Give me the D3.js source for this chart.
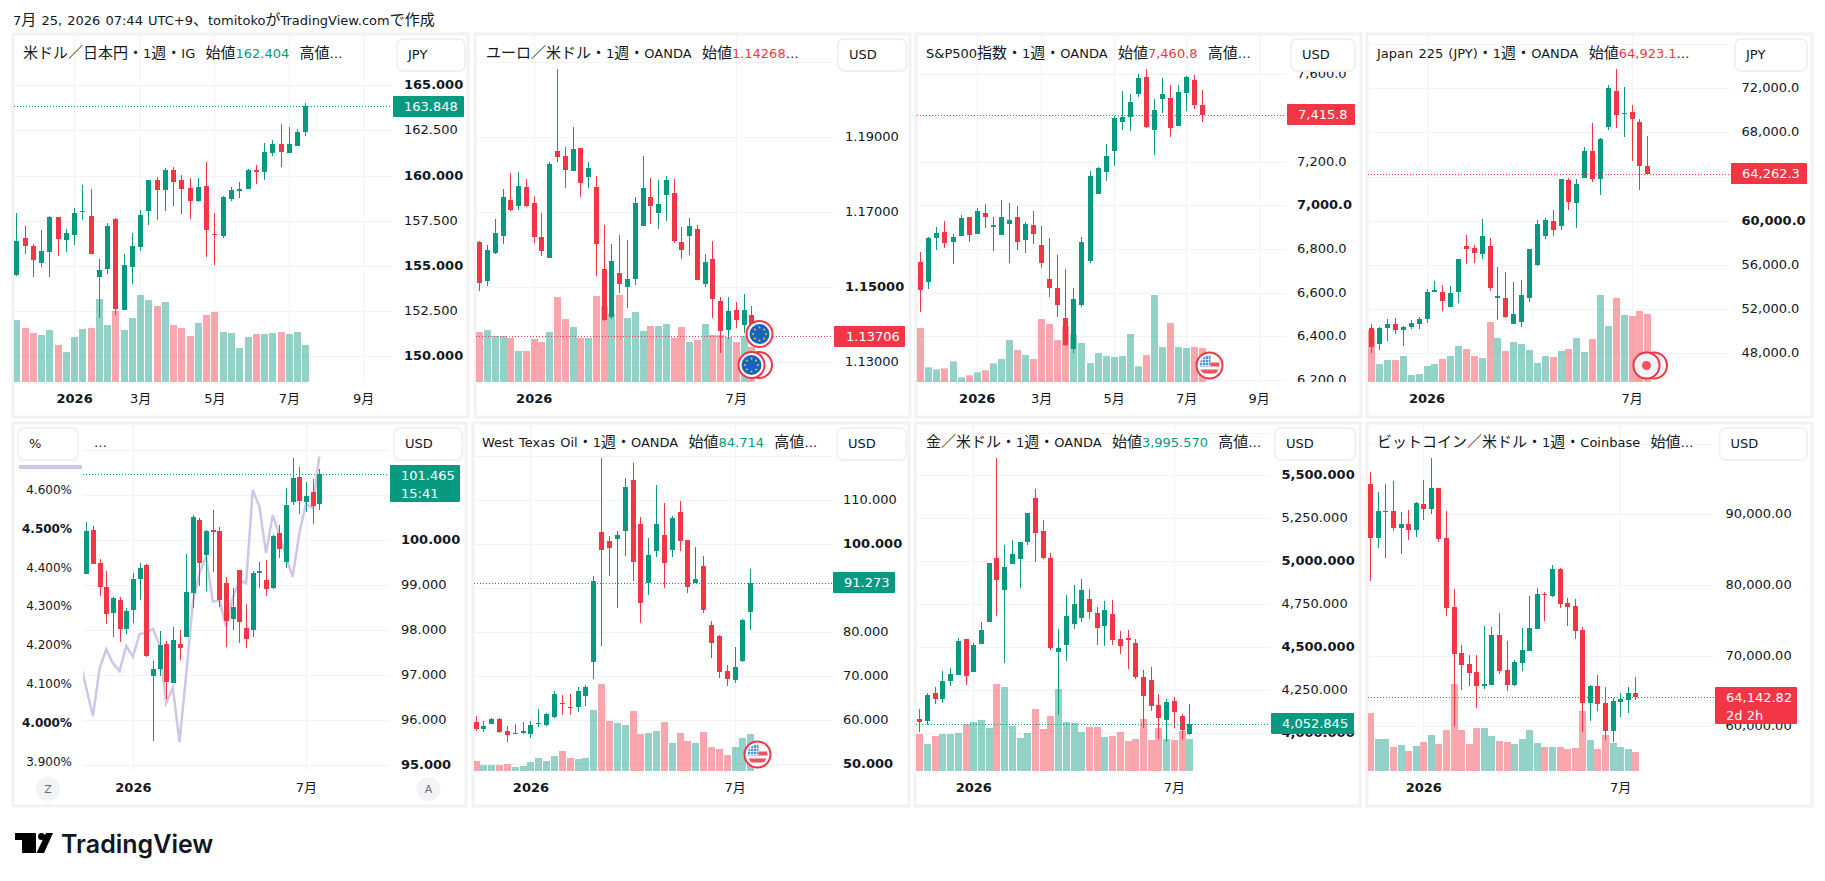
<!DOCTYPE html>
<html>
<head>
<meta charset="utf-8">
<script src="https://cdn.jsdelivr.net/npm/d3@7"></script>
<style>
  body { margin: 0; background: #fff; }
  text { font-family: "DejaVu Sans", "Noto Sans CJK JP", sans-serif; font-size: 13px; fill: #131722; white-space: pre; }
  .domain { display: none; }
</style>
</head>
<body>
<svg id="chart"></svg>
<script>
// weekly candles, first one is the week of 17 Nov 2025: [open, high, low, close]
let usdjpyOhlc = [
[154.50,157.93,154.45,156.38],[156.55,157.21,155.66,156.11],[156.11,156.22,154.39,155.33],[155.17,156.99,154.94,155.83],
[155.77,157.77,154.39,157.71],[157.71,157.71,155.55,156.49],[156.44,157.05,155.77,156.83],[156.72,158.21,156.16,157.93],
[157.99,159.48,157.55,158.04],[157.77,159.26,155.66,155.66],[154.39,155.39,152.12,154.78],[154.83,157.38,154.56,157.21],
[157.60,157.66,152.29,152.62],[152.56,155.66,152.56,155.06],[154.94,156.83,154.00,156.11],[156.05,158.10,155.83,157.82],
[158.04,159.76,157.27,159.76],[159.76,159.93,157.55,159.21],[159.21,160.42,158.04,160.31],[160.31,160.48,158.32,159.65],
[159.76,160.04,157.88,159.26],[159.32,159.87,157.60,158.60],[158.60,159.87,158.54,159.37],[159.43,160.76,155.50,156.99],
[156.77,157.93,155.06,156.72],[156.66,158.87,156.55,158.82],[158.71,159.37,158.60,159.21],[159.15,159.65,158.76,159.26],
[159.26,160.37,159.26,160.31],[160.31,160.59,159.54,160.20],[160.20,161.81,159.76,161.31],[161.25,161.97,161.09,161.75],
[161.75,162.86,160.48,161.31],[161.25,162.69,161.25,161.75],[161.64,162.58,161.64,162.42],[162.404,164.02,162.20,163.848]]
let usdjpyVolume = [186,162,147,141,156,111,90,135,159,162,249,171,213,156,192,261,246,228,240,171,162,138,177,201,210,150,147,102,135,144,144,147,150,144,150,111]
let usdjpyGrid = [165,162.5,160,157.5,155,152.5,150]
let usdjpyBold = [165,160,155,150]

let eurusdOhlc = [
[1.16209,1.16236,1.14902,1.15116],[1.15169,1.16129,1.15036,1.15996],[1.15916,1.16822,1.15889,1.16449],[1.16369,1.17622,1.16156,1.17409],
[1.17329,1.18049,1.17036,1.17062],[1.17169,1.18076,1.17062,1.17702],[1.17676,1.17889,1.17142,1.17169],[1.17249,1.17436,1.16182,1.16342],
[1.16342,1.16982,1.15836,1.15969],[1.15782,1.18342,1.15782,1.18289],[1.18636,1.20822,1.18342,1.18476],[1.18502,1.18742,1.17649,1.18129],
[1.18102,1.19276,1.18102,1.18689],[1.18716,1.18716,1.17409,1.17782],[1.17942,1.18342,1.17649,1.18182],[1.17676,1.17969,1.15302,1.16156],
[1.15489,1.16662,1.14102,1.14129],[1.14209,1.16156,1.14156,1.15702],[1.15382,1.16396,1.14849,1.15089],[1.15009,1.16262,1.14449,1.15222],
[1.15222,1.17409,1.15062,1.17249],[1.16636,1.18502,1.16636,1.17649],[1.17409,1.17916,1.16689,1.17169],[1.16982,1.17862,1.16556,1.17222],
[1.17462,1.17969,1.16769,1.17862],[1.17516,1.17889,1.16182,1.16236],[1.16209,1.16609,1.15756,1.15996],[1.16369,1.16849,1.15862,1.16636],
[1.16556,1.16662,1.15196,1.15196],[1.15089,1.15889,1.15009,1.15676],[1.15756,1.16236,1.14182,1.14689],[1.14636,1.14742,1.13249,1.13836],
[1.13862,1.14742,1.13622,1.14369],[1.14396,1.14609,1.13916,1.14129],[1.13996,1.14822,1.13782,1.14396],[1.14268,1.14502,1.13462,1.13706]]
let eurusdVolume = [150,156,138,138,132,93,93,129,120,150,255,189,165,132,132,258,226,206,261,192,210,153,168,168,174,132,165,120,126,174,141,141,135,120,138,105]
let eurusdGrid = [1.21,1.19,1.17,1.15,1.13]
let eurusdTicks = [1.19,1.17,1.15,1.13]
let eurusdBold = [1.15]

let spxOhlc = [
[6740.5,6786.3,6511.5,6612.2],[6648.9,6855.0,6616.8,6850.4],[6850.4,6900.8,6795.4,6873.3],[6877.9,6928.2,6804.6,6827.5],
[6832.1,6868.7,6731.3,6855.0],[6859.5,6955.7,6859.5,6942.0],[6946.6,6946.6,6832.1,6864.1],[6868.7,6987.8,6868.7,6974.0],
[6964.9,7006.1,6896.2,6946.6],[6900.8,6946.6,6790.8,6909.9],[6864.1,7024.4,6864.1,6946.6],[6914.5,7010.7,6735.9,6932.8],
[6946.6,6996.9,6795.4,6832.1],[6841.2,6923.7,6781.7,6914.5],[6909.9,6974.0,6822.9,6868.7],[6818.3,6905.3,6713.0,6735.9],
[6662.6,6850.4,6580.2,6621.4],[6621.4,6772.5,6488.6,6543.5],[6484.0,6708.4,6355.7,6360.3],[6342.0,6621.4,6323.7,6571.0],
[6543.5,6855.0,6534.4,6832.1],[6745.0,7157.2,6735.9,7134.3],[7051.9,7175.6,7051.9,7171.0],[7152.7,7280.9,7111.4,7226.0],
[7248.9,7409.2,7180.2,7400.0],[7381.7,7523.7,7345.0,7404.6],[7404.6,7509.9,7340.5,7473.3],[7509.9,7601.5,7496.2,7583.2],
[7587.8,7624.4,7354.2,7358.8],[7345.0,7487.0,7230.5,7436.6],[7487.0,7583.2,7422.9,7509.9],[7491.6,7551.1,7313.0,7354.2],
[7363.4,7551.1,7363.4,7519.1],[7514.5,7592.4,7432.1,7587.8],[7574.0,7597.0,7441.2,7459.5],[7460.8,7528.2,7381.7,7415.8]]
let spxVolume = [162,44,38,41,62,14,20,29,35,56,69,126,96,81,69,189,174,126,168,144,117,57,87,78,75,78,144,47,81,261,105,177,105,102,105,102]
let spxGrid = [7600,7400,7200,7000,6800,6600,6400,6200]
let spxTicks = [7600,7200,7000,6800,6600,6400,6200]
let spxBold = [7000]

let jp225Ohlc = [
[50249,50611,47984,48528],[48800,50339,48256,50249],[50249,51064,49071,50611],[50611,51154,49705,50067],
[50067,50430,48618,50339],[50339,50973,50158,50702],[50611,51245,50158,51064],[51064,53781,50702,53509],
[53509,54505,53509,53690],[53509,54143,51788,52694],[52151,54053,52151,53419],[53509,56498,52513,56498],
[57675,58672,56045,57404],[57494,57766,56136,57041],[56951,60121,56498,58581],[57675,58400,53600,53871],
[52966,55773,50973,53147],[52966,55321,51154,51245],[50611,54415,50611,51517],[50792,54596,50339,53237],
[52966,57404,52603,57404],[55955,60030,55864,59668],[58581,60211,58309,60030],[59940,60936,58581,59124],
[59487,63744,59124,63744],[63653,63834,60936,61660],[61570,63744,59306,63291],[63834,66642,63834,66280],
[66280,68815,63472,63744],[63744,67457,62294,67366],[68453,72257,68181,71985],[71714,73706,68363,69540],
[69631,72076,67548,69721],[69812,70446,65374,69178],[68906,69178,62747,64921],[64923.1,67638,64196,64262.3]]
let jp225Volume = [156,54,66,66,78,21,24,48,54,69,78,108,99,78,72,180,132,93,120,114,96,57,78,75,93,99,132,90,129,261,168,252,201,198,213,204]
let jp225Grid = [76000,72000,68000,64000,60000,56000,52000,48000]
let jp225Ticks = [72000,68000,60000,56000,52000,48000]
let jp225Bold = [60000]

let dxyOhlc = [
[99.25,100.41,99.25,100.21],[100.23,100.32,99.47,99.47],[99.50,99.59,98.76,98.96],[98.96,99.32,98.14,98.36],
[98.39,98.74,97.85,98.72],[98.67,98.74,97.74,98.03],[98.03,98.50,97.92,98.43],[98.45,99.27,98.16,99.14],
[99.14,99.50,98.67,99.39],[99.45,99.47,97.41,97.43],[96.99,97.32,95.53,97.14],[97.14,97.99,96.99,97.67],
[97.70,97.76,96.47,96.85],[96.83,98.07,96.83,97.79],[97.70,98.01,97.34,97.61],[97.85,99.70,97.85,98.85],
[98.83,100.56,98.50,100.52],[100.45,100.50,98.99,99.50],[99.67,100.23,98.87,100.21],[100.23,100.67,99.30,100.19],
[100.21,100.30,98.52,98.67],[99.05,99.19,97.63,98.21],[98.25,98.94,98.01,98.52],[99.34,99.34,97.72,98.19],
[98.05,98.59,97.61,97.81],[98.01,99.32,97.85,99.27],[99.27,99.52,98.94,99.32],[99.12,99.56,98.76,98.92],
[98.94,100.12,98.92,100.10],[100.16,100.34,99.61,99.81],[99.52,101.16,99.39,100.79],[100.85,101.83,100.79,101.39],
[101.41,101.63,100.59,100.87],[100.85,101.30,100.63,100.99],[101.07,101.36,100.36,100.76],[100.81,101.59,100.67,101.465]]
let dxyGrid = [102,101,100,99,98,97,96,95]
let dxyTicks = [100,99,98,97,96,95]
let dxyBold = [100,95]
// US yield overlay, left scale in percent. Starts one week before the first candle
let yieldValues = [4.162,4.089,4.017,4.140,4.189,4.153,4.133,4.198,4.170,4.229,4.231,4.242,4.200,4.051,4.090,3.950,4.123,4.308,4.385,4.428,4.312,4.316,4.247,4.321,4.368,4.359,4.600,4.557,4.437,4.535,4.484,4.428,4.376,4.488,4.565,4.553,4.686]
let yieldTicks = [4.6,4.5,4.4,4.3,4.2,4.1,4.0,3.9]
let yieldBold = [4.5,4.0]

let wtiOhlc = [
[59.62,60.98,57.65,58.03],[58.03,59.85,57.42,58.71],[59.17,60.53,59.17,60.30],[60.30,60.53,57.12,57.35],
[57.58,58.71,55.08,56.67],[56.89,59.17,56.89,57.12],[57.12,59.62,56.89,57.58],[56.89,59.85,55.98,58.94],
[59.17,62.58,58.48,59.39],[58.94,61.67,58.71,61.44],[60.76,66.67,60.53,65.98],[63.94,65.76,61.21,63.71],
[63.03,65.98,61.21,62.80],[63.03,67.50,61.89,66.67],[65.53,68.03,63.26,67.58],[73.26,92.80,69.39,91.67],
[102.80,119.62,76.89,98.71],[100.76,101.89,92.80,99.17],[101.21,103.03,85.53,102.12],[103.03,115.08,97.35,113.03],
[114.62,118.48,91.67,95.98],[104.62,106.21,82.12,86.67],[91.21,101.44,88.48,97.58],[98.48,113.48,97.12,104.62],
[102.12,109.39,90.08,95.76],[98.71,106.44,97.12,105.98],[107.35,109.85,98.48,100.76],[100.98,100.98,88.94,90.30],
[91.21,99.39,91.21,92.12],[95.08,97.35,84.39,85.08],[81.67,82.58,74.17,77.58],[79.17,79.39,69.62,70.98],
[71.21,72.58,67.80,69.39],[69.17,76.67,68.48,72.12],[73.48,83.03,73.26,82.80],[84.714,94.39,80.53,91.273]]
let wtiVolume = [30,18,18,18,21,12,15,27,39,30,45,60,39,36,39,183,261,150,144,138,180,111,114,120,147,84,114,90,84,117,72,66,48,72,99,111]
let wtiGrid = [120,110,100,90,80,70,60,50]
let wtiTicks = [110,100,80,70,60,50]
let wtiBold = [100,50]

let goldOhlc = [
[4081.2,4139.5,4005.4,4063.7],[4069.5,4232.7,4046.2,4221.0],[4232.7,4267.7,4168.6,4197.8],[4197.8,4360.9,4174.4,4302.6],
[4302.6,4378.4,4273.5,4343.4],[4337.6,4553.2,4337.6,4535.7],[4547.4,4547.4,4279.3,4331.8],[4355.1,4524.1,4355.1,4512.4],
[4518.3,4646.5,4518.3,4599.8],[4646.5,4990.3,4646.5,4990.3],[5019.4,5602.2,4681.4,4891.2],[4832.9,5095.2,4407.5,4967.0],
[4984.5,5124.3,4984.5,5042.7],[5013.6,5112.7,4844.6,5112.7],[5112.7,5281.7,5095.2,5281.7],[5369.1,5421.5,4996.1,5165.1],
[5176.8,5240.9,5013.6,5019.4],[5019.4,5048.6,4483.3,4495.0],[4471.6,4605.7,4104.5,4495.0],[4512.4,4803.8,4419.2,4681.4],
[4634.8,4862.1,4605.7,4751.4],[4669.8,4897.0,4646.5,4832.9],[4780.5,4838.8,4663.9,4704.7],[4698.9,4733.9,4512.4,4611.5],
[4623.2,4768.8,4506.6,4716.4],[4693.1,4774.7,4512.4,4541.6],[4547.4,4594.0,4460.0,4506.6],[4553.2,4599.8,4372.6,4541.6],
[4524.1,4547.4,4314.3,4325.9],[4325.9,4366.7,4028.8,4215.2],[4308.5,4384.2,4127.8,4156.9],[4162.8,4226.9,3964.6,4087.0],
[4075.4,4197.8,3947.1,4180.3],[4186.1,4209.4,4028.8,4122.0],[4098.7,4110.3,3964.6,4017.1],[3995.57,4168.6,3987.9,4052.845]]
let goldVolume = [111,81,105,111,111,114,141,147,153,129,261,252,135,99,114,186,126,165,246,147,144,117,132,132,102,105,117,90,96,156,93,129,96,93,120,96]
let goldGrid = [5750,5500,5250,5000,4750,4500,4250,4000]
let goldTicks = [5500,5250,5000,4750,4500,4250,4000]
let goldBold = [5500,5000,4500,4000]

let btcOhlc = [
[94245,95944,80519,86604],[86604,93113,85189,90425],[90283,94245,83774,90425],[90425,94670,87594,88019],
[88019,90283,84340,88585],[88585,90566,86321,87736],[87736,91698,86745,91557],[91415,94811,89151,90708],
[90708,97925,90000,93679],[93679,93679,86038,86462],[86604,90425,75566,76698],[76840,79387,60000,70189],
[70330,71462,65094,68632],[68774,70047,65660,67500],[67642,70047,62547,65660],[65660,74151,65236,65943],
[65802,74009,65802,72877],[72877,75991,67358,67783],[67925,72028,64953,65802],[65802,69340,65660,69057],
[68915,73868,67783,70755],[70613,78396,70613,73868],[73726,79528,73726,78679],[78679,78962,74858,78538],
[78396,82783,78255,82217],[82217,82358,76698,77264],[77406,78113,74151,76840],[76981,77972,72311,73443],
[73585,74009,59151,63255],[63255,65802,60708,65660],[65660,67217,62123,63113],[63255,65519,58019,59292],
[59292,63962,57736,63538],[63396,64670,61274,63821],[63679,65519,61840,64670],[64670,66934,63679,64142.82]]
let btcVolume = [174,96,96,72,78,60,75,87,108,81,123,261,123,81,129,129,105,90,87,81,96,123,84,72,72,72,66,69,180,93,66,108,84,72,66,57]
let btcGrid = [100000,90000,80000,70000,60000]
let btcTicks = [90000,80000,70000,60000]
let btcBold = []

let fullWeeks = [7,15,24,33,42]
let fullWeekLabels = ['2026','3月','5月','7月','9月']
let shortWeeks = [7,33]
let shortWeekLabels = ['2026','7月']

let green = '#089981'
let red = '#f23645'
let gridColor = '#f2f3f5'
let borderColor = '#f1f2f4'

let svg = d3.select('#chart').attr('width', 1825).attr('height', 881)
let defs = svg.append('defs')
let clipCount = 0

let addClip = (x, y, w, h) => {
    clipCount++
    let id = 'clip' + clipCount
    defs.append('clipPath').attr('id', id).append('rect')
        .attr('x', x).attr('y', y).attr('width', w).attr('height', h)
    return 'url(#' + id + ')'
}

let volumeScale = (bottom) => d3.scaleLinear().domain([0, 300]).range([bottom, bottom - 100])

// the japanese runs come out wider than the latin ones in the reference
let addRichText = (t, str, color) => {
    str.split(/([\u3000-\u30ff\u4e00-\u9fff\uff00-\uffef]+)/).forEach(part => {
        if (part === '') return
        let s = t.append('tspan').text(part)
        if (/[\u3000-\u30ff\u4e00-\u9fff\uff00-\uffef]/.test(part)) {
            s.style('font-size', '15px').style('font-family', '"Noto Sans CJK JP"')
        }
        if (color) s.style('fill', color)
    })
}

let drawButton = (p) => {
    svg.append('rect')
        .attr('x', p.btn[0]).attr('y', p.top + 4)
        .attr('width', p.btn[1] - p.btn[0]).attr('height', 32)
        .attr('rx', 6).attr('fill', '#fff').attr('stroke', '#f0f1f3').attr('stroke-width', 2)
    svg.append('text').attr('x', p.btn[2]).attr('y', p.top + 19).attr('dy', '.35em').text(p.unit)
}

let drawTitle = (p) => {
    let t = svg.append('text').attr('x', p.titleX).attr('y', p.top + 18).attr('dy', '.35em')
        .style('word-spacing', '1px')
    addRichText(t, p.title[0])
    if (p.title[1]) addRichText(t, p.title[1], p.title[3])
    addRichText(t, p.title[2])
}

let drawCandles = (g, data, x, y) => {
    let col = (d) => d[3] >= d[0] ? green : red
    g.selectAll('.wick').data(data).enter().append('rect').attr('class', 'wick')
        .attr('x', (d, i) => Math.round(x(i)))
        .attr('width', 1)
        .attr('y', d => Math.round(y(d[1])))
        .attr('height', d => Math.max(1, Math.round(y(d[2])) - Math.round(y(d[1]))))
        .attr('fill', col)
    g.selectAll('.body').data(data).enter().append('rect').attr('class', 'body')
        .attr('x', (d, i) => Math.round(x(i)) - 2)
        .attr('width', 5)
        .attr('y', d => Math.round(y(Math.max(d[0], d[3]))))
        .attr('height', d => Math.max(1, Math.round(y(Math.min(d[0], d[3]))) - Math.round(y(Math.max(d[0], d[3])))))
        .attr('fill', col)
}

let drawPanel = (p) => {
    // outer frame
    svg.append('rect').attr('x', p.frame[0]).attr('y', p.top - 1)
        .attr('width', p.frame[1] - p.frame[0]).attr('height', p.bottom - p.top + 36)
        .attr('fill', 'none').attr('stroke', borderColor).attr('stroke-width', 3)

    let x = d3.scaleLinear().domain([0, 35]).range(p.xr)
    let y = d3.scaleLinear().domain(p.yd).range(p.yr)

    let plot = svg.append('g').attr('clip-path', addClip(p.plot[0], p.top, p.plot[1] - p.plot[0], p.bottom - p.top))

    // grid
    plot.selectAll('.hgrid').data(p.grid).enter().append('line').attr('class', 'hgrid')
        .attr('x1', p.plot[0]).attr('x2', p.plot[1])
        .attr('y1', d => Math.round(y(d)) + 0.5).attr('y2', d => Math.round(y(d)) + 0.5)
        .attr('stroke', gridColor)
    plot.selectAll('.vgrid').data(p.weeks).enter().append('line').attr('class', 'vgrid')
        .attr('x1', d => Math.round(x(d)) + 0.5).attr('x2', d => Math.round(x(d)) + 0.5)
        .attr('y1', p.top).attr('y2', p.bottom)
        .attr('stroke', gridColor)

    // volume under the candles
    if (p.volume) {
        let v = volumeScale(p.bottom)
        plot.selectAll('.vol').data(p.volume).enter().append('rect').attr('class', 'vol')
            .attr('x', (d, i) => Math.round(x(i)) - 3)
            .attr('width', 7)
            .attr('y', d => v(d))
            .attr('height', d => p.bottom - v(d))
            .attr('fill', (d, i) => p.ohlc[i][3] >= p.ohlc[i][0] ? green : red)
            .attr('opacity', 0.44)
    }

    if (p.overlay) p.overlay(plot, x)

    drawCandles(plot, p.ohlc, x, y)

    // last price line
    let last = p.ohlc[p.ohlc.length - 1]
    let lastCol = last[3] >= last[0] ? green : red
    plot.append('line')
        .attr('x1', p.plot[0]).attr('x2', p.plot[1])
        .attr('y1', Math.round(y(last[3])) + 0.5).attr('y2', Math.round(y(last[3])) + 0.5)
        .attr('stroke', lastCol).attr('stroke-dasharray', '1 2')

    // event markers sit above the plot
    if (p.icons) p.icons()

    // time axis
    let xAxis = d3.axisBottom(x).tickValues(p.weeks)
        .tickFormat((d, i) => p.weekLabels[i]).tickSize(0).tickPadding(0)
    let gx = svg.append('g').attr('transform', 'translate(0,' + (p.bottom + 12) + ')').call(xAxis)
    gx.attr('font-family', null)
    gx.selectAll('text')
        .style('font-size', '13px')
        .style('font-weight', d => d === 7 ? 'bold' : 'normal')
        .attr('y', 0).attr('dy', '.71em')

    // price axis
    let yAxis = d3.axisRight(y).tickValues(p.ticks).tickFormat(p.fmt).tickSize(0).tickPadding(0)
    let axisClip = addClip(p.plot[1], p.top + 37, p.frame[1] - p.plot[1], p.bottom - p.top - 37)
    let gy = svg.append('g').attr('clip-path', axisClip)
        .append('g').attr('transform', 'translate(' + p.axisX + ',0)').call(yAxis)
    gy.attr('font-family', null)
    gy.selectAll('text')
        .style('font-size', '13px')
        .style('font-weight', d => p.bold.includes(d) ? 'bold' : 'normal')
        .attr('dy', '.26em')

    drawButton(p)
    drawTitle(p)

    // price tag
    let tagH = p.tag.lines.length > 1 ? 37 : 21
    let cy = p.tag.top
    svg.append('rect').attr('x', p.tag.x[0]).attr('y', cy)
        .attr('width', p.tag.x[1] - p.tag.x[0]).attr('height', tagH)
        .attr('fill', lastCol).attr('rx', 1)
    p.tag.lines.forEach((s, i) => {
        svg.append('text').attr('x', p.tag.x[2]).attr('y', cy + 10 + i * 18).attr('dy', '.35em')
            .style('fill', '#fff').text(s)
    })
}

// event markers
let ring = (cx, cy, r, fill) => {
    svg.append('circle').attr('cx', cx).attr('cy', cy).attr('r', r)
        .attr('fill', '#fff').attr('stroke', red).attr('stroke-width', 2)
    svg.append('circle').attr('cx', cx).attr('cy', cy).attr('r', r - 3).attr('fill', fill)
}

let euFlag = (cx, cy) => {
    ring(cx, cy, 13, '#1565c0')
    d3.range(8).forEach(i => {
        let a = i * Math.PI / 4
        svg.append('circle').attr('cx', cx + 6.5 * Math.cos(a)).attr('cy', cy + 6.5 * Math.sin(a))
            .attr('r', 1).attr('fill', '#fbc02d')
    })
}

let usFlag = (cx, cy) => {
    ring(cx, cy, 13, '#fff')
    clipCount++
    let id = 'clip' + clipCount
    defs.append('clipPath').attr('id', id).append('circle').attr('cx', cx).attr('cy', cy).attr('r', 10)
    let g = svg.append('g').attr('clip-path', 'url(#' + id + ')')
    g.append('rect').attr('x', cx - 10).attr('y', cy - 10).attr('width', 11).attr('height', 11).attr('fill', '#4a90e2')
    g.append('rect').attr('x', cx + 1).attr('y', cy - 3).attr('width', 10).attr('height', 4).attr('fill', '#f0525f')
    g.append('rect').attr('x', cx - 10).attr('y', cy + 4).attr('width', 20).attr('height', 4).attr('fill', '#f0525f')
    d3.range(3).forEach(i => {
        g.append('line').attr('x1', cx - 10).attr('x2', cx + 1).attr('y1', cy - 6 + i * 3).attr('y2', cy - 6 + i * 3)
            .attr('stroke', '#fff').attr('stroke-width', 0.7)
        g.append('line').attr('y1', cy - 10).attr('y2', cy + 1).attr('x1', cx - 7 + i * 3).attr('x2', cx - 7 + i * 3)
            .attr('stroke', '#fff').attr('stroke-width', 0.7)
    })
}

let jpFlag = (cx, cy) => {
    ring(cx, cy, 13, '#f0f3fa')
    svg.append('circle').attr('cx', cx).attr('cy', cy).attr('r', 4.5).attr('fill', '#f7525f')
}

let yieldScale = d3.scaleLinear().domain([4.5, 4.0]).range([528.7, 722.7])

let panels = [
    { ohlc: usdjpyOhlc, volume: usdjpyVolume, grid: usdjpyGrid, ticks: usdjpyGrid, bold: usdjpyBold,
      weeks: fullWeeks, weekLabels: fullWeekLabels, fmt: d3.format('.3f'), unit: 'JPY',
      title: ['米ドル／日本円・1週・IG  始値', '162.404', '  高値…', green],
      top: 35, bottom: 382, frame: [13, 468], plot: [14, 392], xr: [16.3, 305.3], axisX: 404,
      yd: [165, 150], yr: [85.3, 356.3], btn: [397, 465, 408], titleX: 23,
      tag: { x: [393, 464, 404], top: 96, lines: ['163.848'] } },
    { ohlc: eurusdOhlc, volume: eurusdVolume, grid: eurusdGrid, ticks: eurusdTicks, bold: eurusdBold,
      weeks: shortWeeks, weekLabels: shortWeekLabels, fmt: d3.format('.5f'), unit: 'USD',
      title: ['ユーロ／米ドル・1週・OANDA  始値', '1.14268', '…', red],
      top: 35, bottom: 382, frame: [475, 910], plot: [476, 833], xr: [479.3, 751.3], axisX: 845,
      yd: [1.19, 1.13], yr: [137.3, 362.3], btn: [838, 906.5, 849], titleX: 486,
      tag: { x: [834, 905, 846], top: 326, lines: ['1.13706'] },
      icons: () => { ring(759, 365, 13, '#fff'); euFlag(751.5, 365); euFlag(759.5, 334) } },
    { ohlc: spxOhlc, volume: spxVolume, grid: spxGrid, ticks: spxTicks, bold: spxBold,
      weeks: fullWeeks, weekLabels: fullWeekLabels, fmt: d3.format(',.1f'), unit: 'USD',
      title: ['S&P500指数・1週・OANDA  始値', '7,460.8', '  高値…', red],
      top: 35, bottom: 382, frame: [916, 1361], plot: [917, 1286], xr: [920.3, 1202.3], axisX: 1297,
      yd: [7000, 6400], yr: [205.3, 336.3], btn: [1291, 1355, 1302], titleX: 926,
      tag: { x: [1287, 1355, 1298], top: 104, lines: ['7,415.8'] },
      icons: () => usFlag(1209.5, 365.5) },
    { ohlc: jp225Ohlc, volume: jp225Volume, grid: jp225Grid, ticks: jp225Ticks, bold: jp225Bold,
      weeks: shortWeeks, weekLabels: shortWeekLabels, fmt: d3.format(',.1f'), unit: 'JPY',
      title: ['Japan 225 (JPY)・1週・OANDA  始値', '64,923.1', '…', red],
      top: 35, bottom: 382, frame: [1367, 1812], plot: [1368, 1730], xr: [1371.3, 1647.3], axisX: 1741.5,
      yd: [72000, 48000], yr: [88.3, 353.3], btn: [1735, 1807, 1746], titleX: 1377,
      tag: { x: [1731, 1807, 1742], top: 163, lines: ['64,262.3'] },
      icons: () => { ring(1654, 365.5, 13, '#f0f3fa'); jpFlag(1646.5, 365.5) } },
    { ohlc: dxyOhlc, grid: dxyGrid, ticks: dxyTicks, bold: dxyBold,
      weeks: shortWeeks, weekLabels: shortWeekLabels, fmt: d3.format('.3f'), unit: 'USD',
      title: ['', '', '', ''],
      top: 424, bottom: 771, frame: [13, 466], plot: [83, 389], xr: [86.3, 319.3], axisX: 401,
      yd: [100, 95], yr: [540.3, 765.3], btn: [394, 462.5, 405], titleX: 94,
      tag: { x: [390, 460, 401], top: 465, lines: ['101.465', '15:41'] },
      overlay: (plot, x) => {
          let line = d3.line().x((d, i) => x(i - 1)).y(d => yieldScale(d))
          plot.append('path').datum(yieldValues).attr('d', line)
              .attr('fill', 'none').attr('stroke', '#d1c4e9').attr('stroke-width', 2.5)
      } },
    { ohlc: wtiOhlc, volume: wtiVolume, grid: wtiGrid, ticks: wtiTicks, bold: wtiBold,
      weeks: shortWeeks, weekLabels: shortWeekLabels, fmt: d3.format('.3f'), unit: 'USD',
      title: ['West Texas Oil・1週・OANDA  始値', '84.714', '  高値…', green],
      top: 424, bottom: 771, frame: [473, 909], plot: [474, 832], xr: [475.5, 750.3], axisX: 843,
      yd: [100, 50], yr: [544.3, 764.3], btn: [837, 906, 848], titleX: 482,
      tag: { x: [833, 895, 844], top: 572, lines: ['91.273'] },
      icons: () => usFlag(757.5, 754.5) },
    { ohlc: goldOhlc, volume: goldVolume, grid: goldGrid, ticks: goldTicks, bold: goldBold,
      weeks: shortWeeks, weekLabels: shortWeekLabels, fmt: d3.format(',.3f'), unit: 'USD',
      title: ['金／米ドル・1週・OANDA  始値', '3,995.570', '  高値…', green],
      top: 424, bottom: 771, frame: [915, 1360], plot: [916, 1270], xr: [919.3, 1189.3], axisX: 1281.5,
      yd: [5000, 4500], yr: [561.3, 647.1], btn: [1275, 1355.5, 1286], titleX: 926,
      tag: { x: [1271, 1354, 1282], top: 713, lines: ['4,052.845'] } },
    { ohlc: btcOhlc, volume: btcVolume, grid: btcGrid, ticks: btcTicks, bold: btcBold,
      weeks: shortWeeks, weekLabels: shortWeekLabels, fmt: d3.format(',.2f'), unit: 'USD',
      title: ['ビットコイン／米ドル・1週・Coinbase  始値…', '', '', ''],
      top: 424, bottom: 771, frame: [1367, 1812], plot: [1368, 1714], xr: [1370.3, 1635.3], axisX: 1725.5,
      yd: [90000, 60000], yr: [514.3, 726.3], btn: [1719.5, 1807, 1730.5], titleX: 1377,
      tag: { x: [1715, 1797, 1726], top: 687, lines: ['64,142.82', '2d 2h'] } }
]

// header line
let header = svg.append('text').attr('x', 13).attr('y', 20).attr('dy', '.35em').style('word-spacing', '1px')
addRichText(header, '7月 25, 2026 07:44 UTC+9、tomitokoがTradingView.comで作成')

panels.forEach(drawPanel)

// left percent axis of the yield overlay
let leftAxis = d3.axisLeft(yieldScale).tickValues(yieldTicks)
    .tickFormat(d => d3.format('.3f')(d) + '%').tickSize(0).tickPadding(0)
let gLeft = svg.append('g').attr('transform', 'translate(72,0)').call(leftAxis)
gLeft.attr('font-family', null)
gLeft.selectAll('text').style('font-size', '12px').attr('dy', '.3em')
    .style('font-weight', d => yieldBold.includes(d) ? 'bold' : 'normal')

// percent button, collapsed legend and overlay swatch
svg.append('rect').attr('x', 18).attr('y', 428).attr('width', 60).attr('height', 32)
    .attr('rx', 6).attr('fill', '#fff').attr('stroke', '#f0f1f3').attr('stroke-width', 2)
svg.append('text').attr('x', 29).attr('y', 443).attr('dy', '.35em').text('%')
svg.append('text').attr('x', 94).attr('y', 442).attr('dy', '.35em').text('…')
svg.append('rect').attr('x', 19).attr('y', 465).attr('width', 63).attr('height', 4).attr('fill', '#d1c4e9')

// Z and A chart buttons
;[['Z', 48], ['A', 428.5]].forEach(b => {
    svg.append('circle').attr('cx', b[1]).attr('cy', 789).attr('r', 12).attr('fill', '#f2f3f5')
    svg.append('text').attr('x', b[1]).attr('y', 789).attr('dy', '.35em')
        .attr('text-anchor', 'middle').style('font-size', '11px').style('fill', '#6a6d78').text(b[0])
})

// TradingView logo
svg.append('path').attr('d', 'M15 833H36V853H22V840H15Z').attr('fill', '#000')
svg.append('circle').attr('cx', 41.5).attr('cy', 836.5).attr('r', 3.5).attr('fill', '#000')
svg.append('path').attr('d', 'M46 833H53L44 853H36.5Z').attr('fill', '#000')
svg.append('text').attr('x', 61).attr('y', 844).attr('dy', '.35em')
    .style('font-family', 'Inter, sans-serif').style('font-size', '25px').style('font-weight', 600)
    .text('TradingView')
</script>
</body>
</html>
